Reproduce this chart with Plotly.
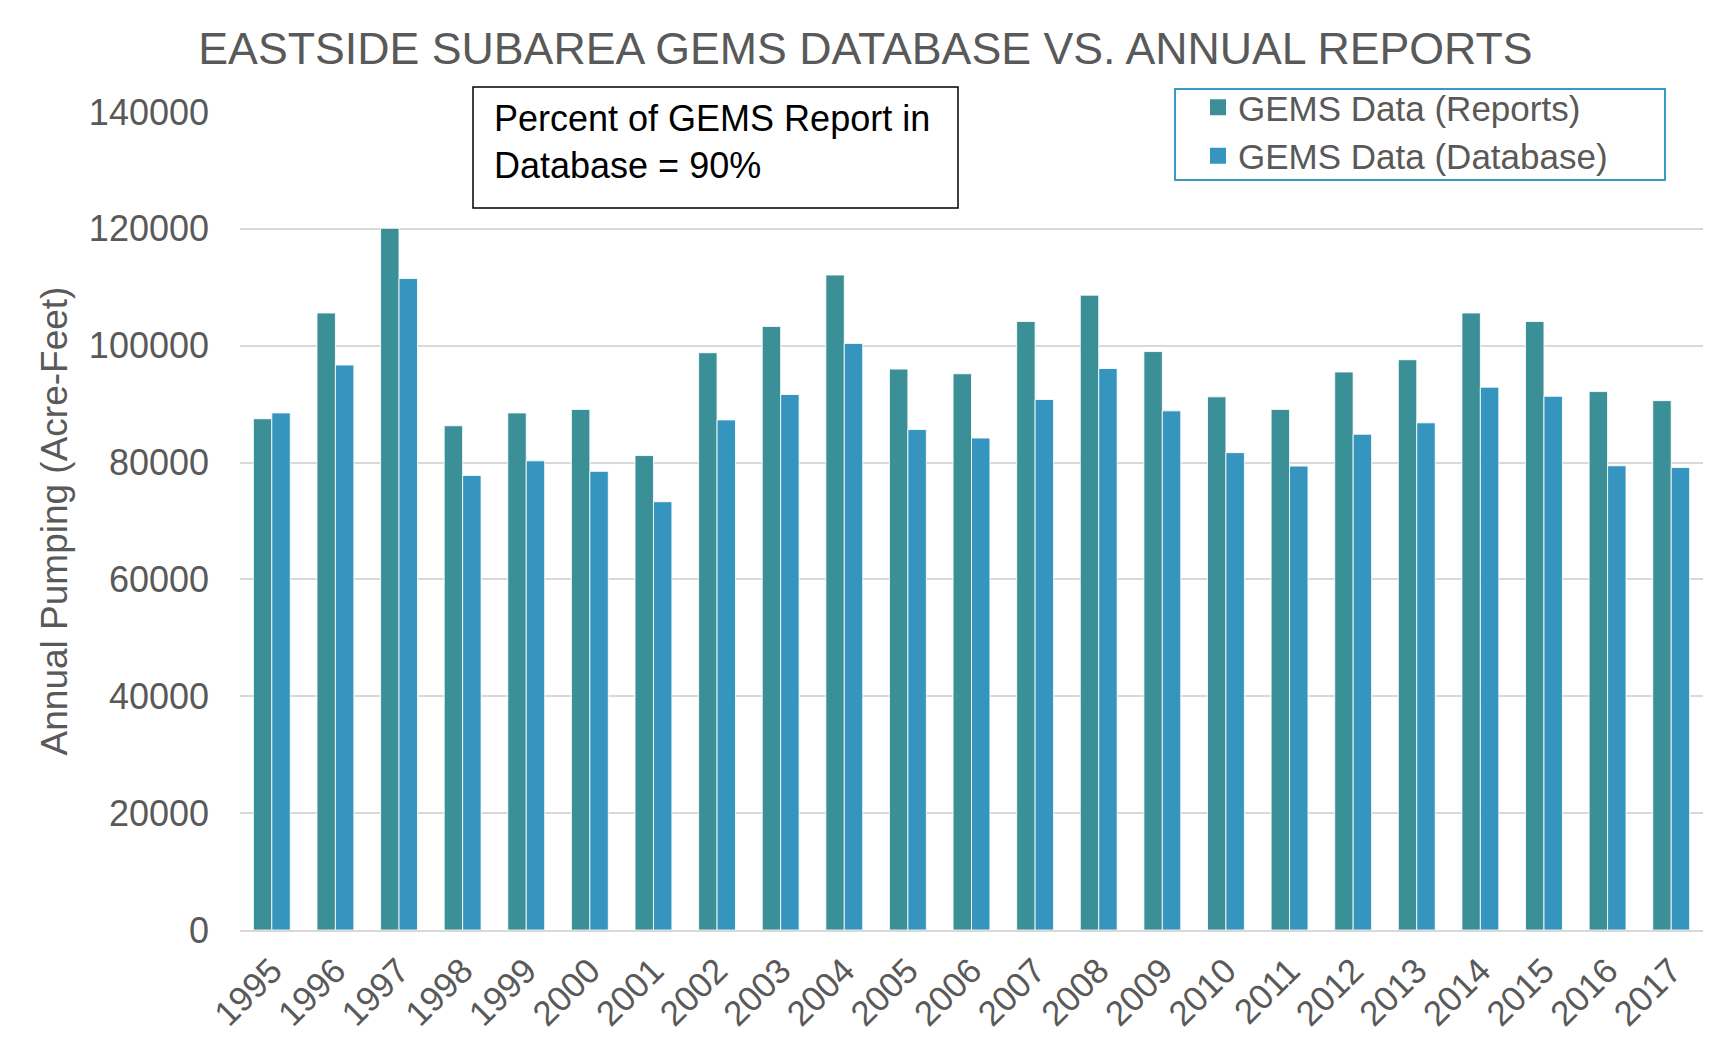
import plotly.graph_objects as go

years = [str(y) for y in range(1995, 2018)]
reports = [87500, 105600, 120100, 86300, 88500, 89100, 81200, 98800, 103300, 112100,
           96000, 95200, 104150, 108650, 99000, 91250, 89100, 95500, 97600, 105600,
           104150, 92150, 90600]
database = [88500, 96700, 111500, 77800, 80300, 78500, 73300, 87300, 91650, 100400,
            85650, 84200, 90800, 96100, 88850, 81700, 79400, 84850, 86800, 92900,
            91350, 79450, 79150]
yticks = [0, 20000, 40000, 60000, 80000, 100000, 120000, 140000]
series_names = ["GEMS Data (Reports)", "GEMS Data (Database)"]
series_colors = ["#3B8F97", "#3595BE"]

OFF = 8                      # page body margin
W, H = 1731 - 2 * OFF, 1057 - 2 * OFF
L, R, T, B = 240, 1703, 112, 930   # plot area in page pixels
FONT = "Liberation Sans, Arial, sans-serif"
GREY = "#595959"

def px(x):
    return (x - L) / (R - L)

def py(y):
    return (B - y) / (B - T)

fig = go.Figure()
for vals, name, col in zip([reports, database], series_names, series_colors):
    fig.add_trace(go.Bar(x=years, y=vals, name=name, showlegend=False,
                         marker=dict(color=col, line=dict(color="rgba(255,255,255,0.85)", width=1))))
# legend entries with larger square swatches
for name, col in zip(series_names, series_colors):
    fig.add_trace(go.Scatter(x=[None], y=[None], mode="markers", name=name,
                             marker=dict(symbol="square", size=18, color=col)))

fig.update_layout(
    width=W, height=H,
    margin=dict(l=L - OFF, r=W - (R - OFF), t=T - OFF, b=H - (B - OFF), pad=0),
    paper_bgcolor="white", plot_bgcolor="white",
    barmode="group", bargap=0.42, bargroupgap=0.0,
    font=dict(family=FONT, color=GREY),
    title=dict(text="EASTSIDE SUBAREA GEMS DATABASE VS. ANNUAL REPORTS",
               font=dict(size=44.7, color=GREY, family=FONT),
               x=0.5, xanchor="center", xref="container",
               y=1 - (48 - OFF) / H, yanchor="middle", yref="container"),
    showlegend=True,
    legend=dict(x=px(1198), y=py(78), xanchor="left", yanchor="top",
                bgcolor="rgba(0,0,0,0)", borderwidth=0, itemsizing="trace",
                font=dict(size=35, color=GREY, family=FONT),
                tracegroupgap=0),
    xaxis=dict(type="category", tickangle=-45, tickfont=dict(size=35, color=GREY),
               showgrid=False, showline=True, linecolor="#D9D9D9", linewidth=2,
               ticks="", ticklabelstandoff=4),
    yaxis=dict(range=[0, 140000], tickvals=yticks, ticktext=[str(v) for v in yticks],
               tickfont=dict(size=36, color=GREY),
               showgrid=True, gridcolor="#D9D9D9", gridwidth=2,
               zeroline=False, showline=False, ticks="", ticklabelstandoff=30,
               title=dict(text="Annual Pumping (Acre-Feet)", font=dict(size=37, color=GREY),
                          standoff=9)),
)

# legend frame
fig.add_shape(type="rect", xref="paper", yref="paper",
              x0=px(1175), x1=px(1665), y0=py(180), y1=py(89),
              line=dict(color="#3A9AC4", width=2), fillcolor="white", layer="below")
# annotation box
fig.add_shape(type="rect", xref="paper", yref="paper",
              x0=px(473), x1=px(958), y0=py(208), y1=py(87),
              line=dict(color="black", width=1.5), fillcolor="white", layer="above")
fig.add_annotation(xref="paper", yref="paper", x=px(492), y=py(142),
                   xanchor="left", yanchor="middle", align="left", showarrow=False,
                   text="Percent of GEMS Report in<br>Database = 90%",
                   font=dict(size=36, color="black", family=FONT))

fig.write_html("out.html")
